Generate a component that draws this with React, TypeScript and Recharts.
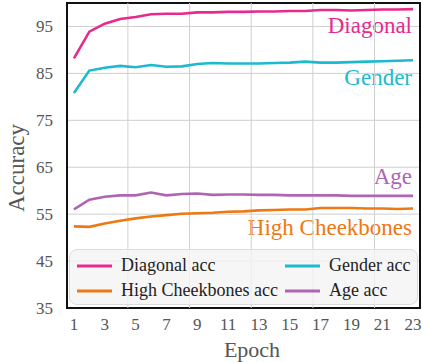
import React from 'react';
import {
  LineChart, Line, XAxis, YAxis, CartesianGrid,
  ReferenceLine, ReferenceArea, Legend, Customized
} from 'recharts';

const FONT = 'Liberation Serif';

const epochs = [1, 2, 3, 4, 5, 6, 7, 8, 9, 10, 11, 12, 13, 14, 15, 16, 17, 18, 19, 20, 21, 22, 23];

const diagonalAcc = [88.2, 93.9, 95.6, 96.6, 97.0, 97.6, 97.7, 97.7, 98.0, 98.0, 98.1, 98.1, 98.2, 98.2, 98.3, 98.3, 98.5, 98.5, 98.4, 98.5, 98.6, 98.6, 98.7];
const genderAcc = [80.8, 85.6, 86.2, 86.6, 86.3, 86.8, 86.4, 86.5, 87.0, 87.2, 87.1, 87.1, 87.1, 87.2, 87.3, 87.5, 87.3, 87.3, 87.4, 87.5, 87.6, 87.7, 87.8];
const highCheekbonesAcc = [52.4, 52.3, 53.0, 53.6, 54.1, 54.5, 54.8, 55.1, 55.2, 55.3, 55.5, 55.6, 55.8, 55.9, 56.0, 56.0, 56.3, 56.3, 56.3, 56.2, 56.2, 56.1, 56.2];
const ageAcc = [56.0, 58.1, 58.7, 59.0, 59.0, 59.6, 59.0, 59.3, 59.4, 59.1, 59.2, 59.2, 59.1, 59.1, 59.0, 59.0, 59.0, 59.0, 58.9, 58.9, 58.9, 58.9, 58.9];

const xTicks = [1, 3, 5, 7, 9, 11, 13, 15, 17, 19, 21, 23];
const yTicks = [35, 45, 55, 65, 75, 85, 95];
const xGridLines = [4.5, 8.5, 12.5, 16.5, 20.5];
const X_DOMAIN: [number, number] = [0.55, 23.45];
const Y_DOMAIN: [number, number] = [35, 100];

const series = [
  { key: 'diagonal', name: 'Diagonal acc', tag: 'Diagonal', color: '#e8298d', values: diagonalAcc },
  { key: 'gender', name: 'Gender acc', tag: 'Gender', color: '#1bbad0', values: genderAcc },
  { key: 'cheek', name: 'High Cheekbones acc', tag: 'High Cheekbones', color: '#ee7812', values: highCheekbonesAcc },
  { key: 'age', name: 'Age acc', tag: 'Age', color: '#b064b4', values: ageAcc },
];

// series tag text placed right-aligned near the end of each curve
const tagBaselines: Record<string, number> = { diagonal: 33, gender: 85, age: 184, cheek: 235 };

const data = epochs.map((epoch, i) => {
  const row: Record<string, number> = { epoch };
  series.forEach(s => { row[s.key] = s.values[i]; });
  return row;
});

const legendOrder = ['diagonal', 'gender', 'cheek', 'age'];

const LegendBox = () => (
  <div style={{
    boxSizing: 'border-box',
    width: 349,
    height: 56,
    background: 'rgba(244,244,244,0.8)',
    border: '1px solid #dcdcdc',
    borderRadius: 8,
    display: 'grid',
    gridTemplateColumns: '208px 140px',
    gridTemplateRows: '25px 25px',
    paddingTop: 3,
    paddingLeft: 7,
    fontFamily: FONT,
    fontSize: 18,
    color: '#222',
  }}>
    {legendOrder.map(k => {
      const s = series.find(x => x.key === k)!;
      return (
        <div key={k} style={{ display: 'flex', alignItems: 'center', whiteSpace: 'nowrap' }}>
          <svg width={35} height={6} style={{ marginRight: 9 }}>
            <line x1={0} y1={3} x2={35} y2={3} stroke={s.color} strokeWidth={3} />
          </svg>
          <span>{s.name}</span>
        </div>
      );
    })}
  </div>
);

const Annotations = () => (
  <g fontFamily={FONT}>
    {series.map(s => (
      <text key={s.key} x={412} y={tagBaselines[s.key]} textAnchor="end" fontSize={23} fontFamily={FONT} fill={s.color}>
        {s.tag}
      </text>
    ))}
    <text x={252} y={357} textAnchor="middle" fontSize={22} fontFamily={FONT} fill="#555">Epoch</text>
    <text x={16} y={168} textAnchor="middle" fontSize={23} fontFamily={FONT} fill="#555" transform="rotate(-90 16 168)" dy="0.35em">
      Accuracy
    </text>
  </g>
);

export default function App() {
  return (
    <div style={{ position: 'absolute', left: 0, top: 0, width: 422, height: 362, background: '#fff', fontFamily: FONT }}>
      <LineChart width={422} height={362} data={data} margin={{ top: 3, right: 2, bottom: 0, left: 0 }}>
        <CartesianGrid vertical={false} stroke="#cfcfcf" strokeWidth={1} />
        {xGridLines.map(x => (
          <ReferenceLine key={x} x={x} stroke="#cfcfcf" strokeWidth={1} />
        ))}
        <XAxis
          dataKey="epoch"
          type="number"
          domain={X_DOMAIN}
          ticks={xTicks}
          allowDataOverflow
          height={54}
          axisLine={false}
          tickLine={false}
          tickSize={0}
          tickMargin={10}
          tick={{ fill: '#555', fontSize: 17, fontFamily: FONT }}
        />
        <YAxis
          type="number"
          domain={Y_DOMAIN}
          ticks={yTicks}
          allowDataOverflow
          width={67}
          axisLine={false}
          tickLine={false}
          tickSize={0}
          tickMargin={14}
          tick={{ fill: '#555', fontSize: 17, fontFamily: FONT }}
        />
        {series.map(s => (
          <Line
            key={s.key}
            dataKey={s.key}
            name={s.name}
            stroke={s.color}
            strokeWidth={2.6}
            dot={false}
            type="linear"
            isAnimationActive={false}
          />
        ))}
        <ReferenceArea
          x1={X_DOMAIN[0]} x2={X_DOMAIN[1]} y1={Y_DOMAIN[0]} y2={Y_DOMAIN[1]}
          fill="none" fillOpacity={0} stroke="#111" strokeWidth={2}
        />
        <Legend
          layout="vertical"
          align="center"
          verticalAlign="middle"
          content={() => <LegendBox />}
          wrapperStyle={{ position: 'absolute', left: 69, top: 249, width: 349, height: 56 }}
        />
        <Customized component={Annotations} />
      </LineChart>
    </div>
  );
}
